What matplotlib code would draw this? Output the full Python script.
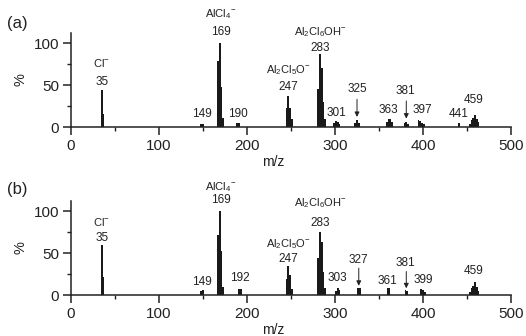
import numpy as np
import matplotlib
matplotlib.use("Agg")
import matplotlib.pyplot as plt
from matplotlib.ticker import MultipleLocator

plt.rcParams['font.family'] = ['Liberation Sans', 'DejaVu Sans']
plt.rcParams['mathtext.fontset'] = 'custom'
plt.rcParams['mathtext.rm'] = 'Liberation Sans'
plt.rcParams['mathtext.it'] = 'Liberation Sans'

# peak lists (m/z, relative intensity %)
mz_a = [35, 37, 148, 150, 167, 169, 171, 173, 189, 191,
        245, 247, 249, 251, 281, 283, 285, 287, 289,
        299, 301, 303, 305, 323, 325, 327, 359, 361, 363, 365,
        379, 381, 383, 395, 397, 399, 401, 441,
        453, 455, 457, 459, 461, 463]
int_a = [44, 15.5, 3, 4, 78, 100, 48, 11, 5, 5,
         23, 37, 23, 9, 45, 87, 70, 30, 10,
         5, 7, 6, 3, 5, 8, 5, 6, 9, 9, 6,
         5, 6, 4, 8, 7, 5, 3, 5,
         4, 8, 11, 14, 10, 6]

mz_b = [35, 37, 148, 150, 167, 169, 171, 173, 191, 193,
        245, 247, 249, 251, 281, 283, 285, 287, 289,
        301, 303, 305, 326, 328, 360, 362,
        380, 382, 398, 400, 402,
        453, 455, 457, 459, 461, 463]
int_b = [59, 21, 5, 6, 72, 100, 52, 10, 7, 7,
         19, 34, 24, 7, 44, 75, 63, 27, 8,
         5, 8, 6, 8, 8, 8, 8,
         6, 5, 7, 6, 4,
         4, 8, 11, 15, 10, 5]

# (x, y, text) for number labels and ion names
nums_a = [(35, 54, "35"), (170, 113, "169"), (148.5, 16, "149"), (190, 16, "190"),
          (247, 48, "247"), (283, 94, "283"), (302, 17, "301"), (325, 45, "325"),
          (361, 20, "363"), (380, 43, "381"), (399, 20, "397"), (441, 15, "441"),
          (458, 32, "459")]
ions_a = [(35, 76, r"Cl$^{-}$"), (170, 135, r"AlCl$_4$$^{-}$"),
          (247, 68, r"Al$_2$Cl$_5$O$^{-}$"), (283, 113, r"Al$_2$Cl$_6$OH$^{-}$")]
arrows_a = [(325, 33, 12), (381, 31, 10)]

nums_b = [(35, 68, "35"), (170, 113, "169"), (148.5, 16, "149"), (192, 20, "192"),
          (247, 43, "247"), (283, 86, "283"), (303, 20, "303"), (327, 42, "327"),
          (360, 17, "361"), (380, 38, "381"), (400, 18, "399"), (457, 28, "459")]
ions_b = [(35, 87, r"Cl$^{-}$"), (170, 129, r"AlCl$_4$$^{-}$"),
          (247, 61, r"Al$_2$Cl$_5$O$^{-}$"), (283, 110, r"Al$_2$Cl$_6$OH$^{-}$")]
arrows_b = [(327, 32, 11), (381, 28, 8)]

fig = plt.figure(figsize=(5.26, 3.36), dpi=100)
ax_a = fig.add_axes([0.135, 0.622, 0.8365, 0.28])
ax_b = fig.add_axes([0.135, 0.122, 0.8365, 0.28])

tc = '#222222'
for ax, mz, inten, nums, ions, arrows, tag, tag_y in [
        (ax_a, mz_a, int_a, nums_a, ions_a, arrows_a, "(a)", 1.096),
        (ax_b, mz_b, int_b, nums_b, ions_b, arrows_b, "(b)", 1.117)]:
    ax.bar(mz, inten, width=2.0, color='#1a1a1a', linewidth=0)
    ax.set_xlim(0, 500)
    ax.set_ylim(0, 112)
    ax.spines['top'].set_visible(False)
    ax.spines['right'].set_visible(False)
    for s in ('left', 'bottom'):
        ax.spines[s].set_linewidth(1.1)
        ax.spines[s].set_color(tc)
    ax.xaxis.set_major_locator(MultipleLocator(100))
    ax.xaxis.set_minor_locator(MultipleLocator(50))
    ax.yaxis.set_major_locator(MultipleLocator(50))
    ax.yaxis.set_minor_locator(MultipleLocator(25))
    ax.tick_params(which='major', direction='out', length=5.5, width=1.1,
                   labelsize=11, colors=tc)
    ax.tick_params(which='minor', direction='out', length=3, width=1.0, colors=tc)
    ax.tick_params(axis='x', which='major', pad=3)
    ax.tick_params(axis='y', which='major', pad=3)
    ax.set_ylabel("%", fontsize=10.5, color=tc)
    ax.yaxis.set_label_coords(-0.114, 0.5)
    ax.set_xlabel("m/z", fontsize=10, color=tc)
    ax.xaxis.set_label_coords(0.460, -0.37)
    ax.xaxis.label.set_va('center')
    ax.yaxis.label.set_va('center')
    for x, y, t in nums:
        ax.text(x, y, t, ha='center', va='center', fontsize=8.5, color=tc, clip_on=False)
    for x, y, t in ions:
        ax.text(x, y, t, ha='center', va='center', fontsize=8, color=tc, clip_on=False)
    for x, y0, y1 in arrows:
        ax.annotate('', xy=(x, y1), xytext=(x, y0),
                    arrowprops=dict(arrowstyle='-|>', color=tc, lw=0.7,
                                    mutation_scale=7, shrinkA=0, shrinkB=0))
    ax.text(-0.145, tag_y, tag, transform=ax.transAxes, fontsize=12, color=tc,
            ha='left', va='center')

fig.savefig("out.png", dpi=100)
